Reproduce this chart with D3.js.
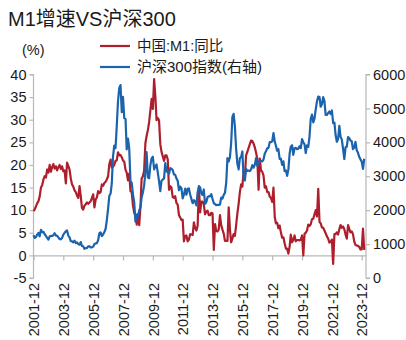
<!DOCTYPE html>
<html>
<head>
<meta charset="utf-8">
<script src="https://cdn.jsdelivr.net/npm/d3@7"></script>
<style>
html,body{margin:0;padding:0;background:#fff;}
svg text{font-family:"Liberation Sans",Arial,"Noto Sans CJK SC",sans-serif;fill:#1a1a1a;}
</style>
</head>
<body>
<svg id="c" width="406" height="340"></svg>
<script>
const startMonth = [2001, 12];
const tickLabels = ["2001-12","2003-12","2005-12","2007-12","2009-12","2011-12","2013-12","2015-12","2017-12","2019-12","2021-12","2023-12"];
const leftTicks = [-5,0,5,10,15,20,25,30,35,40];
const rightTicks = [0,1000,2000,3000,4000,5000,6000];
const seriesNames = ["中国:M1:同比","沪深300指数(右轴)"];

const m1 = [9.8,
10.2,10.9,11.5,12.0,13.0,15.0,15.5,16.8,17.5,17.2,19.0,18.3,
20.0,18.5,19.5,20.2,19.2,19.7,18.8,19.5,20.0,19.1,19.7,18.6,
18.8,15.9,20.5,19.8,19.0,17.0,15.7,15.2,14.4,14.0,13.2,12.7,
15.3,13.0,10.5,10.1,11.0,11.3,11.7,11.4,11.7,12.0,12.7,13.5,
10.6,12.4,12.8,14.2,13.8,14.0,15.7,15.4,16.0,16.3,16.8,17.5,
20.2,21.2,19.4,19.6,20.0,20.9,21.0,22.8,22.1,22.2,21.7,21.0,
20.7,18.9,18.3,16.6,18.1,14.2,14.0,11.0,9.4,8.9,6.8,9.1,
6.7,10.9,17.0,17.5,18.7,24.8,26.4,27.7,29.5,32.0,34.6,32.4,
39.0,35.0,29.9,30.4,29.9,24.6,22.9,21.9,20.9,22.1,22.1,21.2,
14.5,15.3,15.0,12.9,12.7,13.1,11.6,11.2,8.9,8.4,7.8,7.9,
3.1,4.3,4.4,3.1,3.5,4.7,4.6,4.5,7.3,6.1,5.5,6.5,
15.3,9.5,11.9,11.9,11.3,9.1,9.7,9.9,8.9,8.9,9.4,9.3,
1.2,6.9,5.4,5.3,5.7,8.9,6.7,5.7,4.8,3.2,3.2,3.2,
10.6,5.6,2.9,3.7,4.7,4.3,6.6,9.3,11.4,14.0,15.7,15.2,
18.6,17.4,22.1,22.9,23.7,24.6,25.4,25.3,24.7,23.9,22.7,21.4,
14.5,21.4,18.8,18.5,17.7,15.0,15.3,14.0,14.0,13.0,12.7,11.8,
15.0,8.5,7.1,7.2,6.0,6.6,5.1,3.9,4.0,2.7,1.5,1.5,
0.4,2.0,4.6,2.9,3.4,4.4,3.1,3.4,3.4,3.3,3.5,4.4,
0.0,4.8,5.0,5.5,6.8,6.5,6.9,8.0,8.1,9.1,10.0,8.6,
14.7,7.4,7.1,6.2,6.1,5.5,4.9,4.2,3.7,2.8,3.0,3.5,
-1.9,4.7,4.7,5.1,4.6,5.8,6.7,6.1,6.4,5.8,4.6,3.7,
6.7,5.8,5.1,5.3,4.7,3.1,2.3,2.2,2.1,1.9,1.3,1.3,
5.9,1.2];

const csi300 = [1265,
1180,1210,1280,1330,1230,1420,1350,1360,1290,1240,1180,1130,
1230,1240,1240,1260,1320,1250,1250,1200,1150,1140,1180,1280,
1330,1380,1400,1250,1200,1090,1080,1050,1100,1030,1050,1000,
982,1059,945,933,859,883,886,933,937,904,902,924,
1003,1020,1027,1114,1314,1346,1236,1282,1357,1444,1710,2042,
2427,2493,2781,3588,3903,3827,4471,5219,5604,5688,4892,5338,
4712,4688,3790,4110,3823,2857,2803,2466,2228,1663,1870,1817,
1991,2082,2374,2520,2723,3105,3712,2960,2942,3329,3529,3575,
3205,3290,3347,3105,2855,2564,2868,2903,2935,3385,3142,3128,
3076,3240,3223,3182,3055,3044,2937,2868,2587,2695,2640,2346,
2464,2634,2455,2627,2640,2462,2333,2204,2293,2254,2140,2523,
2686,2673,2495,2448,2610,2187,2237,2385,2409,2409,2471,2330,
2203,2179,2146,2160,2158,2165,2369,2339,2451,2508,2809,3533,
3434,3572,3967,4749,4841,4473,3816,3367,3203,3534,3566,3731,
2946,2877,3218,3156,3170,3154,3204,3329,3253,3336,3538,3311,
3387,3453,3456,3439,3493,3666,3737,3822,3837,4006,4006,4031,
4275,4023,3899,3756,3802,3510,3517,3335,3438,3153,3173,3011,
3202,3670,3872,3913,3630,3826,3836,3799,3814,3886,3828,4097,
4004,3941,3686,3912,3868,4164,4695,4816,4588,4695,4980,5211,
5351,5337,5049,5123,5332,5224,4811,4806,4866,4908,4832,4940,
4563,4582,4222,4017,4091,4485,4170,4079,3804,3508,3854,3872,
4157,4118,4051,4030,3799,3843,4015,3765,3690,3573,3497,3431,
3216,3516];

const red = "#ad1f2c", blue = "#1c63ae", axisColor = "#b8b8b8";
const svg = d3.select("#c");
const dates = m1.map((_, i) => new Date(startMonth[0], startMonth[1] - 1 + i, 1));
const parse = d3.timeParse("%Y-%m");

const x = d3.scaleTime().domain([new Date(2001, 11, 1), new Date(2024, 2, 15)]).range([33.5, 366]);
const yL = d3.scaleLinear().domain([-5, 40]).range([278, 74.5]);
const yR = d3.scaleLinear().domain([0, 6000]).range([278, 74.5]);

// title
svg.append("text").attr("x", 8).attr("y", 26).style("font-size", "20px").text("M1增速VS沪深300");
svg.append("text").attr("x", 22).attr("y", 55).style("font-size", "14.5px").text("(%)");

const plain = d => String(d);
// left axis
const gL = svg.append("g").attr("transform", "translate(33.5,0)")
  .call(d3.axisLeft(yL).tickValues(leftTicks).tickSize(4).tickPadding(3).tickFormat(plain));
// right axis
const gR = svg.append("g").attr("transform", "translate(366,0)")
  .call(d3.axisRight(yR).tickValues(rightTicks).tickSize(4).tickPadding(3).tickFormat(plain));
// x axis at zero
const gX = svg.append("g").attr("transform", `translate(0,${yL(0)})`)
  .call(d3.axisBottom(x).tickValues(tickLabels.map(parse)).tickSize(5).tickSizeOuter(0).tickFormat(d3.timeFormat("%Y-%m")));
gX.selectAll(".tick text")
  .attr("transform", function(){ return `translate(0,${278 - yL(0) + 5}) rotate(-90)`; })
  .attr("x", 0).attr("y", 0).attr("dy", "0.36em").style("text-anchor", "end");

[gL, gR, gX].forEach(g => {
  g.selectAll(".domain, .tick line").attr("stroke", axisColor).attr("stroke-width", 1.2);
  g.selectAll("text").style("font-size", "14.5px").attr("fill", "#1a1a1a");
  g.attr("font-family", null);
});
gL.select(".domain").attr("d", `M-4,${yL(40)}H0V${yL(-5)}H-4`);
gR.select(".domain").attr("d", `M4,${yR(6000)}H0V${yR(0)}H4`);

// lines
const lineL = d3.line().x((d, i) => x(dates[i])).y(d => yL(d));
const lineR = d3.line().x((d, i) => x(dates[i])).y(d => yR(d));
svg.append("path").datum(m1).attr("d", lineL).attr("fill", "none").attr("stroke", red).attr("stroke-width", 2.2).attr("stroke-linejoin", "round");
svg.append("path").datum(csi300).attr("d", lineR).attr("fill", "none").attr("stroke", blue).attr("stroke-width", 2.2).attr("stroke-linejoin", "round");

// legend
const leg = [[red, 46], [blue, 67]];
leg.forEach((l, i) => {
  svg.append("line").attr("x1", 100).attr("x2", 130).attr("y1", l[1]).attr("y2", l[1]).attr("stroke", l[0]).attr("stroke-width", 2.2);
  svg.append("text").attr("x", 137).attr("y", l[1]).attr("dy", "0.36em").style("font-size", i === 0 ? "14.5px" : "15px").text(seriesNames[i]);
});
</script>
</body>
</html>
